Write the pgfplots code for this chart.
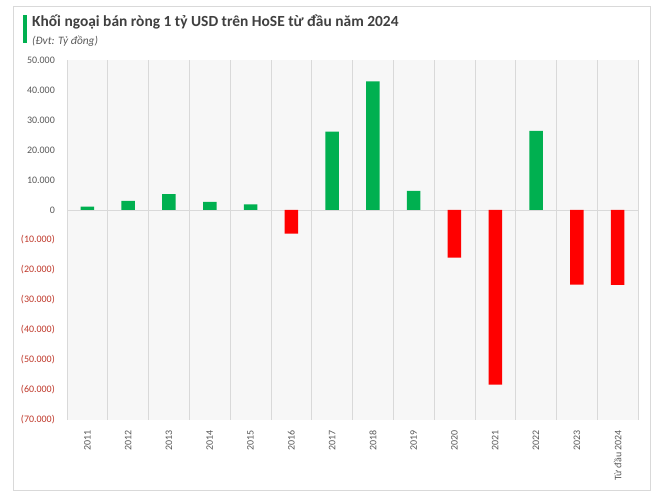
\documentclass[border=0pt]{standalone}
\usepackage{pgfplots}
\pgfplotsset{compat=1.18}
\usepackage{fontspec}
\setmainfont{Carlito}
\definecolor{bargreen}{HTML}{00B050}
\definecolor{barred}{HTML}{FF0000}
\definecolor{negred}{HTML}{C0392B}
\definecolor{labgray}{HTML}{595959}
\definecolor{gridgray}{HTML}{D9D9D9}
\definecolor{plotbg}{HTML}{F7F7F7}
\definecolor{titlegray}{HTML}{404040}
\begin{document}
\begin{tikzpicture}[x=1bp,y=1bp]
\fill[white] (0,0) rectangle (660,504);
\draw[gridgray, line width=0.8bp] (13,14) rectangle (650,498);
\fill[bargreen] (23,461) rectangle (27,489);
\node[anchor=west, font=\fontsize{15.5}{17}\selectfont\bfseries, text=titlegray, inner sep=0pt] at (32,482) {Khối ngoại bán ròng 1 tỷ USD trên HoSE từ đầu năm 2024};
\node[anchor=west, font=\fontsize{11.4}{13}\selectfont\itshape, text=labgray, inner sep=0pt] at (32,463) {(Đvt: Tỷ đồng)};
\begin{axis}[
  at={(67bp,84bp)}, anchor=south west,
  scale only axis, width=571bp, height=360bp,
  xmin=-0.5, xmax=13.5, ymin=-70000, ymax=50000,
  scaled y ticks=false,
  axis background/.style={fill=plotbg},
  axis line style={draw=none},
  xtick={0,...,13},
  xticklabels={2011,2012,2013,2014,2015,2016,2017,2018,2019,2020,2021,2022,2023,Từ đầu 2024},
  x tick label style={rotate=90, anchor=east, font=\fontsize{10}{12}\selectfont, text=labgray, inner sep=0pt},
  xticklabel shift=10bp,
  minor xtick={-0.5,0.5,...,13.5},
  minor x grid style={gridgray, line width=0.6bp},
  xminorgrids=true,
  ytick={-70000,-60000,-50000,-40000,-30000,-20000,-10000,0,10000,20000,30000,40000,50000},
  yticklabels={\textcolor{negred}{(70.000)},\textcolor{negred}{(60.000)},\textcolor{negred}{(50.000)},\textcolor{negred}{(40.000)},\textcolor{negred}{(30.000)},\textcolor{negred}{(20.000)},\textcolor{negred}{(10.000)},0,10.000,20.000,30.000,40.000,50.000},
  y tick label style={font=\fontsize{10}{12}\selectfont, text=labgray, inner sep=0pt},
  yticklabel shift=12bp,
  major tick length=0pt, minor tick length=0pt,
  extra y ticks={0}, extra y tick labels={},
  extra y tick style={grid=major, major grid style={gridgray, line width=0.8bp}},
  ybar, bar width=13.5bp,
]
\addplot[fill=bargreen, draw=none, bar shift=0pt] coordinates {
(0,1100) (1,3000) (2,5300) (3,2700) (4,1900) (6,26100) (7,42900) (8,6400) (11,26400)};
\addplot[fill=barred, draw=none, bar shift=0pt] coordinates {
(5,-7900) (9,-15900) (10,-58200) (12,-24900) (13,-25000)};
\end{axis}
\end{tikzpicture}
\end{document}
